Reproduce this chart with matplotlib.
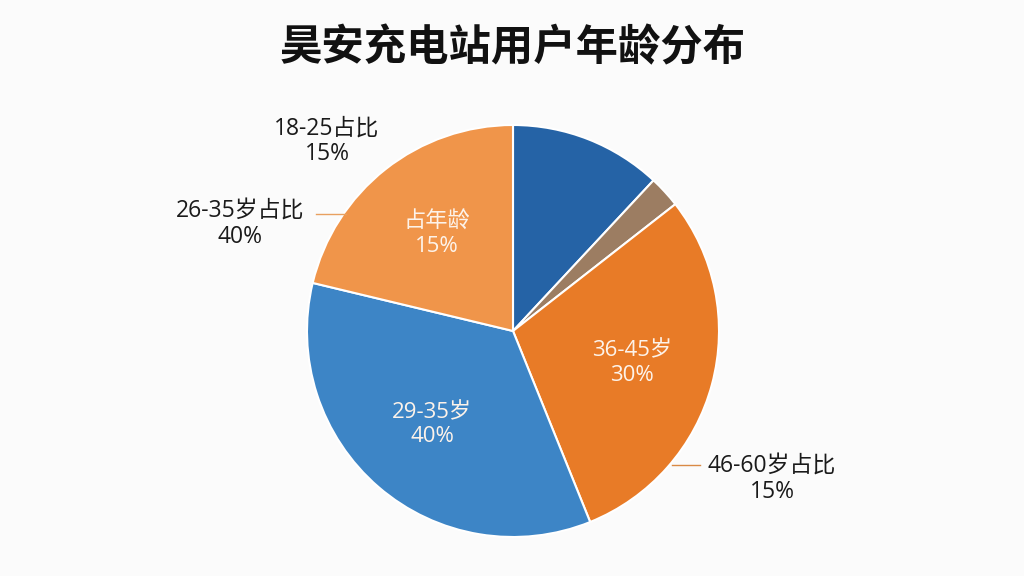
import matplotlib
matplotlib.use("Agg")
import matplotlib.pyplot as plt
import numpy as np

plt.rcParams['font.family'] = ['Open Sans', 'Noto Sans CJK SC', 'DejaVu Sans']

title = "昊安充电站用户年龄分布"
# slices clockwise from 12 o'clock (share in degrees)
slice_values = [43, 9, 106, 125.5, 76.5]
slice_colors = ["#2563a6", "#9c7d62", "#e87b27", "#3d85c6", "#f0954a"]
inner_labels = ["", "", "36-45岁\n30%", "29-35岁\n40%", "占年龄\n15%"]
outer_labels = ["18-25占比\n15%", "26-35岁占比\n40%", "46-60岁占比\n15%"]

fig = plt.figure(figsize=(10.24, 5.76), dpi=100)
fig.patch.set_facecolor("#fbfbfb")
ax = fig.add_axes([0, 0, 1, 1])
ax.set_aspect("equal")
cx, cy, r = 513, 331, 206
ax.pie(slice_values, colors=slice_colors, startangle=90,
       counterclock=False, center=(cx, 576 - cy), radius=r, frame=True,
       wedgeprops=dict(edgecolor="white", linewidth=1.5))
ax.set_xlim(0, 1024)
ax.set_ylim(0, 576)
ax.axis("off")

# inner labels at wedge centers
ang = 90.0
for v, lab in zip(slice_values, inner_labels):
    mid = np.deg2rad(ang - v / 2)
    ang -= v
    if not lab:
        continue
    rr = 0.6 * r
    x = cx + rr * np.cos(mid)
    y = 576 - cy + rr * np.sin(mid)
    ax.text(x, y, lab, ha="center", va="center", color="#fdf3ea",
            fontsize=16, linespacing=1.2)

def T(x, y):
    return x, 576 - y

ax.text(*T(513, 50), title, ha="center", va="center", fontsize=30.5,
        fontweight="bold", color="#111111")
ax.text(*T(327, 141), outer_labels[0], ha="center", va="center",
        fontsize=16.5, color="#1a1a1a", linespacing=1.1)
ax.text(*T(240, 224), outer_labels[1], ha="center", va="center",
        fontsize=16.5, color="#1a1a1a", linespacing=1.1)
ax.text(*T(772, 479), outer_labels[2], ha="center", va="center",
        fontsize=16.5, color="#1a1a1a", linespacing=1.1)
ax.plot(*zip(T(316, 214), T(346, 214)), color="#e8a060", lw=1)
ax.plot(*zip(T(672, 465), T(700, 465)), color="#d98a45", lw=1)

fig.savefig("out.png", dpi=100, facecolor=fig.get_facecolor())
